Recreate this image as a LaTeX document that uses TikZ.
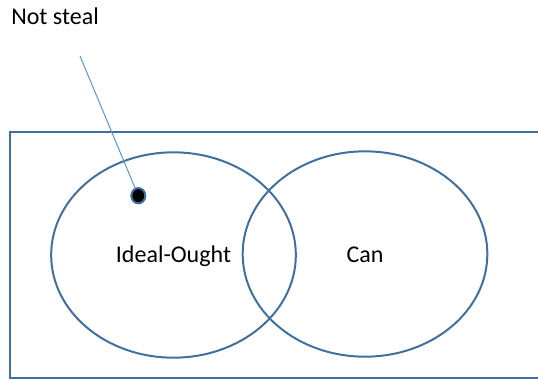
\documentclass[tikz,border=0pt]{standalone}
\usepackage{fontspec}
\setmainfont{Carlito}
\usetikzlibrary{shapes.geometric, positioning}
\definecolor{setcolor}{RGB}{65,112,160}
\definecolor{pointcolor}{RGB}{91,150,210}

\begin{document}
\begin{tikzpicture}[
    x=0.75pt, y=-0.75pt,
    setring/.style={ellipse, draw=setcolor, line width=1.5pt, minimum width=183.5pt, minimum height=154pt, inner sep=0pt},
    label/.style={font=\fontsize{18}{21}\selectfont, inner sep=0pt},
    pointer/.style={draw=pointcolor, line width=0.75pt}
]
\clip (0,0) rectangle (538,380);
\draw[setcolor, line width=1.5pt] (545,132) -- (10,132) -- (10,378) -- (545,378);

\node[setring] (ought) at (173.5,255) {};
\node[setring] (can) at (365,254) {};
\node[label, anchor=base] (oughttext) at (173.5,262) {Ideal-Ought};
\node[label, anchor=base] (cantext) at (365,262) {Can};

\node[ellipse, fill=black, draw=setcolor, line width=1.5pt, minimum width=10.5pt, minimum height=11.5pt, inner sep=0pt] (dot) at (138.3,195.7) {};
\node[label, anchor=base west] (steal) at (11,24) {Not steal};
\coordinate (tip) at (80,56);
\draw[pointer] (tip) -- (dot);
\end{tikzpicture}
\end{document}
